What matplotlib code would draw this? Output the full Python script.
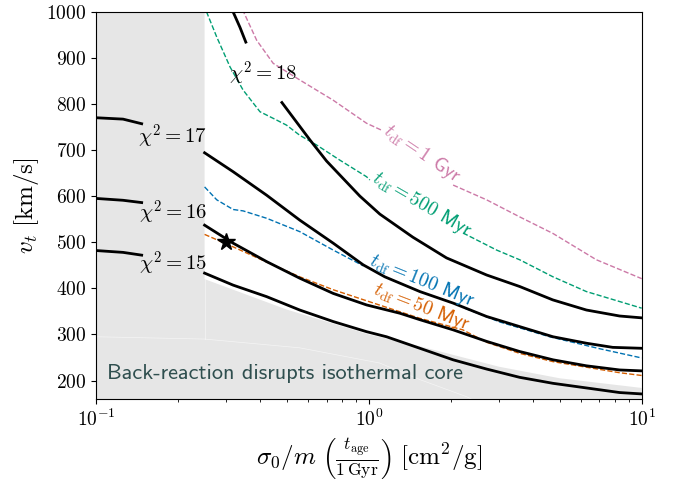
import numpy as np
import matplotlib
matplotlib.use("Agg")
import matplotlib.pyplot as plt

plt.rcParams["font.family"] = "serif"
plt.rcParams["font.serif"] = ["cmr10"]
plt.rcParams["mathtext.fontset"] = "cm"
plt.rcParams["axes.formatter.use_mathtext"] = True

nan = np.nan

# ---- chi^2 contours (left region, x < 0.25) ----
chi_left_x = [0.100, 0.1256, 0.147]
chi17_left = [770, 767, 757]
chi16_left = [595, 591, 586]
chi15_left = [482, 478, 472]

# ---- chi^2 contours (right region, x >= 0.25) ----
chi18_x = [0.315, 0.337, 0.354, nan, 0.480, 0.608, 0.700, 0.927, 1.097, 1.449, 1.926, 2.70, 3.57, 4.72, 6.27, 8.30, 10.0]
chi18_v = [1005, 966, 934, nan, 803, 722, 676, 600, 561, 511, 466, 429, 404, 375, 353, 340, 336]

chi17_x = [0.25, 0.318, 0.422, 0.558, 0.740, 0.953, 1.144, 1.538, 2.036, 2.70, 3.57, 4.73, 6.27, 7.83, 10.0]
chi17_v = [694, 653, 602, 548, 498, 451, 425, 393, 368, 339, 317, 295, 281, 272, 270]

chi16_x = [0.25, 0.318, 0.422, 0.558, 0.740, 0.981, 1.299, 1.538, 2.036, 2.70, 3.57, 4.73, 6.27, 8.30, 10.0]
chi16_v = [537, 498, 458, 422, 389, 364, 346, 332, 310, 285, 263, 245, 232, 223, 221]

chi15_x = [0.25, 0.318, 0.422, 0.558, 0.740, 0.981, 1.161, 1.538, 2.036, 2.70, 3.57, 4.73, 6.27, 8.30, 10.0]
chi15_v = [433, 407, 382, 353, 328, 306, 295, 270, 245, 225, 207, 194, 184, 174, 171]

# ---- dynamical friction time contours ----
t1g_x = [0.344, 0.388, 0.446, 0.558, 0.740, 0.981, 1.113, nan, 2.036, 2.70, 3.57, 4.73, 6.82, 10.0]
t1g_v = [1005, 938, 888, 852, 808, 758, 743, nan, 624, 592, 555, 519, 462, 421]

t500_x = [0.254, 0.277, 0.310, 0.346, 0.399, 0.459, 0.499, 0.558, 0.643, 0.783, 0.981, 1.008, nan, 2.215, 2.94, 3.57, 4.73, 6.27, 10.0]
t500_v = [1000, 945, 880, 830, 783, 765, 754, 732, 711, 678, 642, 635, nan, 520, 483, 462, 425, 393, 357]

t100_x = [0.25, 0.277, 0.318, 0.346, 0.422, 0.558, 0.740, 0.953, nan, 2.247, 3.02, 4.60, 7.02, 10.0]
t100_v = [620, 592, 571, 568, 552, 523, 483, 449, nan, 357, 327, 295, 269, 249]

t50_x = [0.25, 0.318, 0.422, 0.558, 0.740, 0.981, 1.538, 2.21, 2.70, 3.57, 4.73, 6.27, 8.30, 10.0]
t50_v = [517, 490, 457, 425, 397, 373, 335, 310, 283, 259, 241, 229, 217, 211]

# ---- excluded (back-reaction) region ----
bnd_x = [0.25, 0.5, 1.0, 1.5, 3.0, 5.0, 10.0]
bnd_v = [420, 354, 300, 276, 230, 205, 184]
seam_x = [0.1, 0.25, 0.558, 1.096, 1.54, 2.28, 3.0]
seam_v = [295, 290, 271, 238, 202, 165, 130]

star_x, star_v = [0.3], [500]

fig = plt.figure(figsize=(6.81, 4.83), dpi=100)
ax = fig.add_axes([0.141, 0.1739, 0.8013, 0.8019])
ax.set_xscale("log")
ax.set_xlim(0.1, 10)
ax.set_ylim(160, 1000)

gray = "#e6e6e6"
px = [0.1, 0.25] + bnd_x + [10.0, 0.1]
pv = [1000, 1000] + bnd_v + [0, 0]
ax.fill(px, pv, color=gray, lw=0, zorder=1)
ax.plot(seam_x, seam_v, color="white", lw=0.5, alpha=0.6, zorder=1.5)
ax.plot([0.25, 0.25], [seam_v[1], bnd_v[0]], color="white", lw=0.5, alpha=0.6, zorder=1.5)

lw_c = 2.0
for v in (chi17_left, chi16_left, chi15_left):
    ax.plot(chi_left_x, v, color="k", lw=lw_c, zorder=3)
for xs, vs in ((chi18_x, chi18_v), (chi17_x, chi17_v), (chi16_x, chi16_v), (chi15_x, chi15_v)):
    ax.plot(xs, vs, color="k", lw=lw_c, zorder=3)

c_pink, c_green, c_blue, c_orange = "#cc79a7", "#009e73", "#0072b2", "#d55e00"
for xs, vs, c in ((t1g_x, t1g_v, c_pink), (t500_x, t500_v, c_green),
                  (t100_x, t100_v, c_blue), (t50_x, t50_v, c_orange)):
    ax.plot(xs, vs, color=c, lw=1.0, ls="--", zorder=2)

ax.plot(star_x, star_v, marker="*", color="k", ms=13, ls="none", zorder=5)

fs_lab = 15
ax.text(0.191, 729, r"$\chi^2 = 17$", fontsize=fs_lab, ha="center", va="center", zorder=4)
ax.text(0.191, 564, r"$\chi^2 = 16$", fontsize=fs_lab, ha="center", va="center", zorder=4)
ax.text(0.192, 454, r"$\chi^2 = 15$", fontsize=fs_lab, ha="center", va="center", zorder=4)
ax.text(0.410, 866, r"$\chi^2 = 18$", fontsize=fs_lab, ha="center", va="center", zorder=4)

fs_t = 14
sans = "cmss10"
ax.text(1.56, 693, r"$t_{\rm df} = 1$ Gyr", color=c_pink, fontsize=fs_t, family=sans,
        rotation=-34, ha="center", va="center", zorder=4)
ax.text(1.56, 581, r"$t_{\rm df} = 500$ Myr", color=c_green, fontsize=fs_t, family=sans,
        rotation=-30, ha="center", va="center", zorder=4)
ax.text(1.56, 416, r"$t_{\rm df} = 100$ Myr", color=c_blue, fontsize=fs_t, family=sans,
        rotation=-22, ha="center", va="center", zorder=4)
ax.text(1.56, 360, r"$t_{\rm df} = 50$ Myr", color=c_orange, fontsize=fs_t, family=sans,
        rotation=-21, ha="center", va="center", zorder=4)

ax.text(0.11, 215, "Back-reaction disrupts isothermal core", color="darkslategray",
        fontsize=16, family=sans, ha="left", va="center", zorder=4)

ax.set_yticks([200, 300, 400, 500, 600, 700, 800, 900, 1000])
ax.tick_params(labelsize=14)
ax.set_xlabel(r"$\sigma_0/m\ \left(\frac{t_{\rm age}}{1\,{\rm Gyr}}\right)\ [{\rm cm}^2/{\rm g}]$", fontsize=18)
ax.set_ylabel(r"$v_t\ [{\rm km/s}]$", fontsize=18)

fig.savefig("out.png", dpi=100)
